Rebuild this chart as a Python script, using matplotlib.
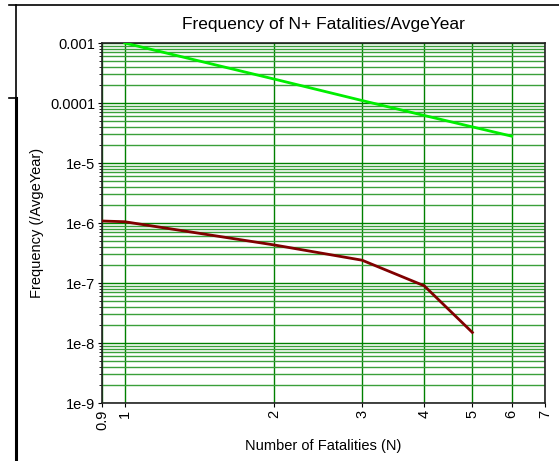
import matplotlib.pyplot as plt
from matplotlib.lines import Line2D
from matplotlib.ticker import FixedLocator, FixedFormatter, LogLocator, NullFormatter

plt.rcParams['font.family'] = ['Liberation Sans', 'DejaVu Sans']

# data
criterion_n = [1, 2, 3, 4, 5, 6]
criterion_freq = [1.0e-3, 2.5e-4, 1.1e-4, 6.2e-5, 4.0e-5, 2.8e-5]
fn_n = [0.9, 1, 2, 3, 4, 5]
fn_freq = [1.08e-6, 1.05e-6, 4.3e-7, 2.4e-7, 9.0e-8, 1.5e-8]

x_ticks = [0.9, 1, 2, 3, 4, 5, 6, 7]
x_labels = ['0.9', '1', '2', '3', '4', '5', '6', '7']
y_ticks = [1e-9, 1e-8, 1e-7, 1e-6, 1e-5, 1e-4, 1e-3]
y_labels = ['1e-9', '1e-8', '1e-7', '1e-6', '1e-5', '0.0001', '0.001']

fig = plt.figure(figsize=(5.59, 4.61), dpi=100)
ax = fig.add_axes([0.1825, 0.1258, 0.7925, 0.7809])

ax.set_xscale('log')
ax.set_yscale('log')
ax.set_xlim(0.9, 7)
ax.set_ylim(1e-9, 1e-3)

ax.plot(criterion_n, criterion_freq, color='#00ee00', lw=2, zorder=3)
ax.plot(fn_n, fn_freq, color='#800000', lw=2, zorder=3)

ax.xaxis.set_major_locator(FixedLocator(x_ticks))
ax.xaxis.set_major_formatter(FixedFormatter(x_labels))
ax.xaxis.set_minor_locator(FixedLocator([]))
ax.yaxis.set_major_locator(FixedLocator(y_ticks))
ax.yaxis.set_major_formatter(FixedFormatter(y_labels))
ax.yaxis.set_minor_locator(LogLocator(base=10, subs=range(2, 10)))
ax.yaxis.set_minor_formatter(NullFormatter())

ax.grid(True, which='major', color='#008000', lw=1)
ax.grid(True, which='minor', axis='y', color='#3a9f3a', lw=1)
ax.set_axisbelow(True)

ax.tick_params(axis='x', labelrotation=90, labelsize=10.5, length=3, pad=2)
ax.tick_params(axis='y', which='major', labelsize=10.5, length=3, pad=2)
ax.tick_params(axis='y', which='minor', length=2)
for s in ax.spines.values():
    s.set_color('#222222')
    s.set_linewidth(1.2)

ax.set_title('Frequency of N+ Fatalities/AvgeYear', fontsize=12.5, pad=10)
ax.set_xlabel('Number of Fatalities (N)', fontsize=10.5, labelpad=6)
ax.set_ylabel('Frequency (/AvgeYear)', fontsize=10.5, labelpad=4)

# outer frame pieces
W, H = 559, 461
fig.add_artist(Line2D([9 / W, 1], [1 - 5 / H, 1 - 5 / H], color='black', lw=1.2))
fig.add_artist(Line2D([16 / W, 16 / W], [1 - 5 / H, 1 - 98 / H], color='black', lw=1.2))
fig.add_artist(Line2D([15.5 / W, 15.5 / W], [1 - 98 / H, 0], color='black', lw=2.2))
fig.add_artist(Line2D([9 / W, 16 / W], [1 - 98 / H, 1 - 98 / H], color='black', lw=1.2))

fig.savefig('out.png', dpi=100)
